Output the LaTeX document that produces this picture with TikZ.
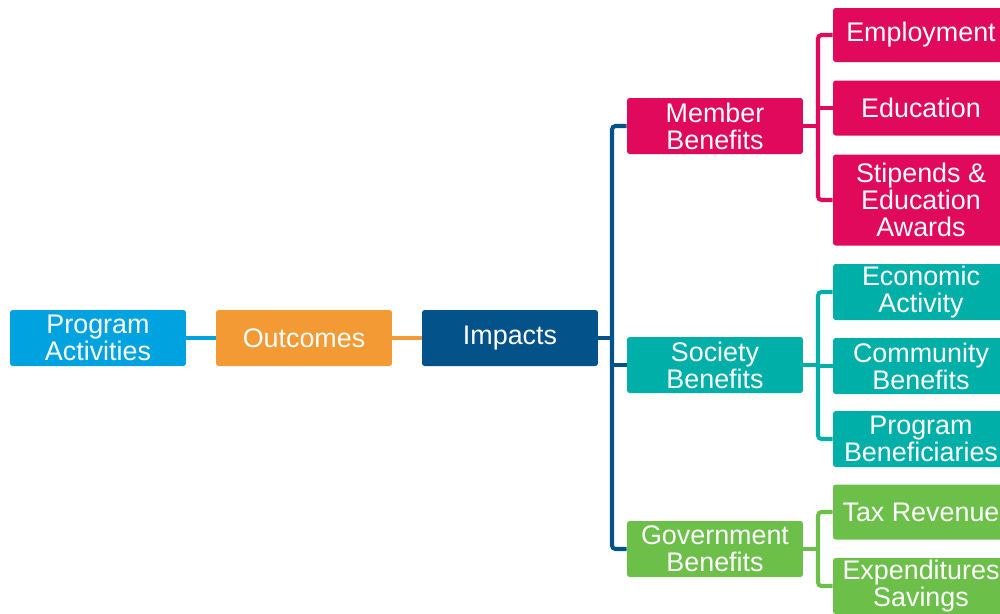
\documentclass[tikz,border=0pt]{standalone}
\usepackage{fontspec}
\setmainfont{Liberation Sans}
\definecolor{actblue}{HTML}{00A3E0}
\definecolor{outorange}{HTML}{F39A35}
\definecolor{impblue}{HTML}{03528A}
\definecolor{memred}{HTML}{E0095B}
\definecolor{socteal}{HTML}{00AFA8}
\definecolor{govgreen}{HTML}{6CC04A}
\begin{document}
\begin{tikzpicture}[x=0.02cm,y=-0.02cm,
  box/.style={rounded corners=1.5pt, text=white, minimum width=3.52cm,
    minimum height=1.12cm, align=center, inner sep=0pt,
    font=\fontsize{15.3}{15.5}\selectfont},
  link/.style={line width=2.3pt}]
\useasboundingbox (0,0) rectangle (1000,613);

% main chain
\node[box,fill=actblue] (act) at (98,338) {Program\\Activities};
\node[box,fill=outorange] (out) at (304,338) {Outcomes};
\node[box,fill=impblue] (imp) at (510,338) {Impacts};

% benefit groups
\node[box,fill=memred] (mem) at (715,126) {Member\\Benefits};
\node[box,fill=socteal] (soc) at (715,365) {Society\\Benefits};
\node[box,fill=govgreen] (gov) at (715,549) {Government\\Benefits};

% single benefits
\node[box,fill=memred,minimum height=1.08cm] (emp) at (921,35) {Employment};
\node[box,fill=memred,minimum height=1.1cm] (edu) at (921,108) {Education};
\node[box,fill=memred,minimum height=1.82cm] (sti) at (921,200) {Stipends \&\\Education\\Awards};
\node[box,fill=socteal] (eco) at (921,292) {Economic\\Activity};
\node[box,fill=socteal] (com) at (921,366) {Community\\Benefits};
\node[box,fill=socteal] (ben) at (921,439) {Program\\Beneficiaries};
\node[box,fill=govgreen,minimum height=1.1cm] (tax) at (921,512) {Tax Revenue};
\node[box,fill=govgreen] (exp) at (921,586) {Expenditures\\Savings};

\coordinate (ibus) at (612,338);
\coordinate (mbus) at (818,126);
\coordinate (sbus) at (818,365);
\coordinate (gbus) at (818,549);

\draw[link,actblue,line width=2.8pt] (act) -- (out);
\draw[link,outorange] (out) -- (imp);

\draw[link,impblue] (imp.east) -- (ibus);
\draw[link,impblue,rounded corners=2pt] (mem.west) -| (ibus) |- (gov.west);
\draw[link,impblue] (soc.west) -- (soc.west -| ibus);

\draw[link,memred] (mem.east) -- (mbus);
\draw[link,memred,rounded corners=2pt] (emp.west) -| (mbus) |- (sti.west);
\draw[link,memred] (edu.west) -- (edu.west -| mbus);

\draw[link,socteal] (soc.east) -- (sbus);
\draw[link,socteal,rounded corners=2pt] (eco.west) -| (sbus) |- (ben.west);
\draw[link,socteal] (com.west) -- (com.west -| sbus);

\draw[link,govgreen] (gov.east) -- (gbus);
\draw[link,govgreen,rounded corners=2pt] (tax.west) -| (gbus) |- (exp.west);
\end{tikzpicture}
\end{document}
